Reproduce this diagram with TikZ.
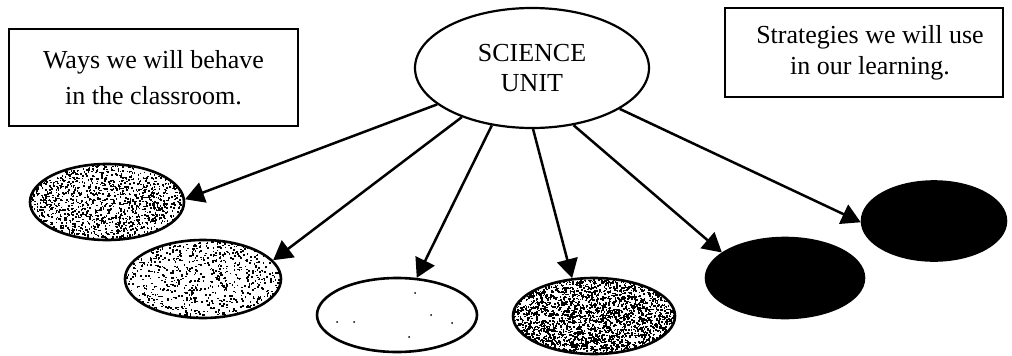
\documentclass[tikz,border=0pt]{standalone}
\usepackage{fontspec}
\setmainfont{Liberation Serif}
\usetikzlibrary{arrows.meta,shapes.geometric}

% grainy fill: random specks clipped to an ellipse (cx, cy, rx, ry, count)
\newcommand\speckfill[5]{%
  \begin{scope}
    \clip (#1,#2) ellipse [x radius=#3, y radius=#4];
    \foreach \k in {1,...,#5}{%
      \fill ({#1+#3*rand},{#2+#4*rand}) rectangle ++(1.6,1.6);
    }
  \end{scope}}

\tikzset{
  box/.style={draw, line width=1.6pt, inner sep=0pt, align=center,
              font=\fontsize{26}{36}\selectfont},
  blob/.style={ellipse, draw, line width=2.6pt, inner sep=0pt},
  link/.style={line width=2.5pt, -{Triangle[length=19pt,width=21pt]}},
}

\begin{document}
\begin{tikzpicture}[x=1pt,y=-1pt]
\useasboundingbox[fill=white] (0,0) rectangle (1012,356);
\pgfmathsetseed{4242}

% text boxes
\node[box, minimum width=289pt, minimum height=97pt] (ways) at (153.5,77.5)
  {Ways we will behave\\in the classroom.};
\node[box, font=\fontsize{26}{31}\selectfont, minimum width=278pt, minimum height=89pt]
  (strat) at (864,52.5) {\hspace*{12pt}Strategies we will use\\\hspace*{12pt}in our learning.};

% central topic
\node[blob, line width=2.2pt, minimum width=234pt, minimum height=120pt, align=center,
      font=\fontsize{26}{30}\selectfont] (sci) at (532,68) {SCIENCE\\UNIT};

% grainy fills
\speckfill{107}{202}{77}{38}{1600}
\speckfill{203}{279}{78}{39}{950}
\speckfill{594}{316}{81}{38}{2900}

% satellite ellipses
\node[blob, minimum width=154pt, minimum height=76pt] (e1) at (107,202) {};
\node[blob, minimum width=156pt, minimum height=78pt] (e2) at (203,279) {};
\node[blob, minimum width=160pt, minimum height=74pt] (e3) at (397,315) {};
\node[blob, minimum width=162pt, minimum height=76pt] (e4) at (594,316) {};
\node[blob, fill=black, minimum width=158pt, minimum height=80pt] (e5) at (785,278) {};
\node[blob, fill=black, minimum width=144pt, minimum height=79pt] (e6) at (934,221) {};

% a few stray specks in the light ellipse
\foreach \p in {(337,322),(354,322),(415,293),(431,315),(452,323),(409,337)}
  \fill \p circle (1pt);

% connectors
\draw[link] (sci.201) -- (e1.2);
\draw[link] (sci.215) -- (e2.15);
\draw[link] (sci.235) -- (e3.62);
\draw[link] (sci.271) -- (e4.120);
\draw[link] (sci.306) -- (e5.158);
\draw[link] (sci.335) -- (e6.181);
\end{tikzpicture}
\end{document}
